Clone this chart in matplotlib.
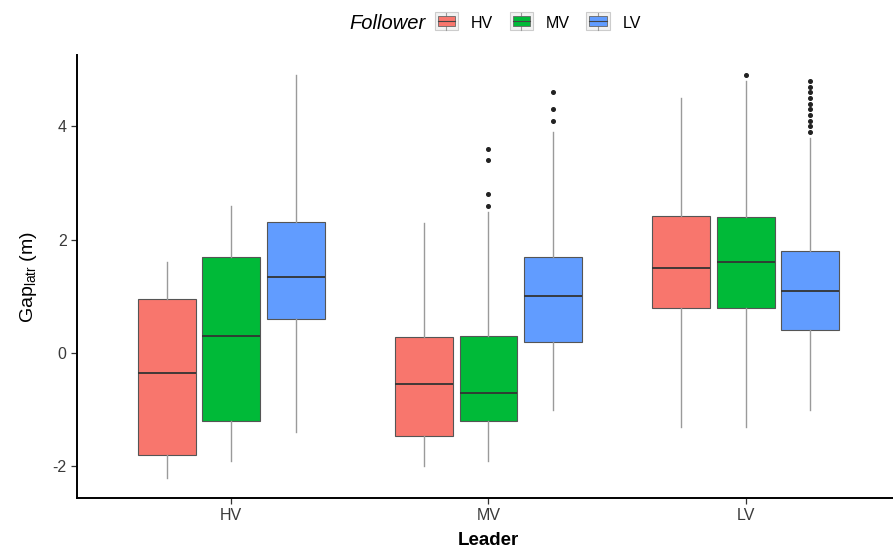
import matplotlib.pyplot as plt
from matplotlib.patches import Patch, Rectangle
from matplotlib.lines import Line2D
from matplotlib.legend_handler import HandlerBase

# --- data ---
leaders = ['HV', 'MV', 'LV']
followers = ['HV', 'MV', 'LV']
colors = ['#F8766D', '#00BA38', '#619CFF']

# one row per leader, one entry per follower
whislo = [[-2.2, -1.9, -1.4], [-2.0, -1.9, -1.0], [-1.3, -1.3, -1.0]]
q1 = [[-1.8, -1.2, 0.6], [-1.47, -1.2, 0.2], [0.8, 0.8, 0.4]]
med = [[-0.35, 0.3, 1.35], [-0.55, -0.7, 1.0], [1.5, 1.6, 1.1]]
q3 = [[0.95, 1.7, 2.32], [0.28, 0.3, 1.7], [2.42, 2.4, 1.8]]
whishi = [[1.6, 2.6, 4.9], [2.3, 2.48, 3.9], [4.5, 4.8, 3.8]]
fliers = [[[], [], []],
          [[], [2.6, 2.8, 3.4, 3.6], [4.1, 4.3, 4.6]],
          [[], [4.9], [3.9, 4.0, 4.1, 4.2, 4.3, 4.4, 4.5, 4.6, 4.7, 4.8]]]

plt.rcParams['font.family'] = ['Liberation Sans', 'DejaVu Sans']


# ggplot-like legend key : grey square, whisker, box, median
class BoxKey(HandlerBase):
    def create_artists(self, legend, orig, x0, y0, w, h, fs, trans):
        c = orig.get_facecolor()
        bg = Rectangle((x0, y0 - 0.25 * h), w, 1.5 * h, facecolor='#f2f2f2',
                       edgecolor='#cccccc', lw=0.8, transform=trans)
        wl = Line2D([x0 + w / 2, x0 + w / 2], [y0 - 0.2 * h, y0 + 1.2 * h],
                    color='#9a9a9a', lw=0.8, transform=trans)
        bx = Rectangle((x0 + 0.12 * w, y0 + 0.1 * h), 0.76 * w, 0.8 * h, facecolor=c,
                       edgecolor='#666666', lw=0.6, transform=trans)
        md = Line2D([x0 + 0.12 * w, x0 + 0.88 * w], [y0 + 0.5 * h, y0 + 0.5 * h],
                    color='#444444', lw=0.8, transform=trans)
        return [bg, wl, bx, md]


fig = plt.figure(figsize=(8.93, 5.57), dpi=100)
ax = fig.add_axes([0.0862, 0.106, 0.9216, 0.795])

for i in range(3):
    for j in range(3):
        st = [dict(whislo=whislo[i][j], q1=q1[i][j], med=med[i][j],
                   q3=q3[i][j], whishi=whishi[i][j], fliers=fliers[i][j])]
        pos = i + 1 + (j - 1) * 0.25
        ax.bxp(st, positions=[pos], widths=0.225, patch_artist=True,
               showcaps=False,
               boxprops=dict(facecolor=colors[j], edgecolor='#555555', linewidth=0.8),
               medianprops=dict(color='#333333', linewidth=1.3),
               whiskerprops=dict(color='#9a9a9a', linewidth=1.0),
               flierprops=dict(marker='o', markersize=2.6, markerfacecolor='#222222',
                               markeredgecolor='#222222'))

ax.set_xlim(0.4, 3.6)
ax.set_ylim(-2.555, 5.255)
ax.set_xticks([1, 2, 3])
ax.set_xticklabels(leaders)
ax.set_yticks([-2, 0, 2, 4])
ax.set_yticklabels(['-2', '0', '2', '4'])
ax.tick_params(labelsize=11.5, colors='#333333', length=4, width=0.9, labelcolor='#3a3a3a')

for s in ['top', 'right']:
    ax.spines[s].set_visible(False)
for s in ['left', 'bottom']:
    ax.spines[s].set_linewidth(1.4)
    ax.spines[s].set_color('black')

ax.set_xlabel('Leader', fontsize=13.5, fontweight='bold', labelpad=6)
ax.set_ylabel(r'Gap$_{\mathregular{latr}}$ (m)', fontsize=14, labelpad=10)

handles = [Patch(facecolor=c) for c in colors]
fig.legend(handles, followers, loc='center left', bbox_to_anchor=(0.487, 0.958),
           ncol=3, frameon=False, fontsize=11.5,
           handler_map={Patch: BoxKey()},
           handlelength=1.45, handleheight=0.8, columnspacing=1.05, handletextpad=0.8,
           borderaxespad=0, borderpad=0)
fig.text(0.477, 0.958, 'Follower', ha='right', va='center', fontsize=14.5,
         fontstyle='italic')

fig.savefig('out.png', dpi=100)
